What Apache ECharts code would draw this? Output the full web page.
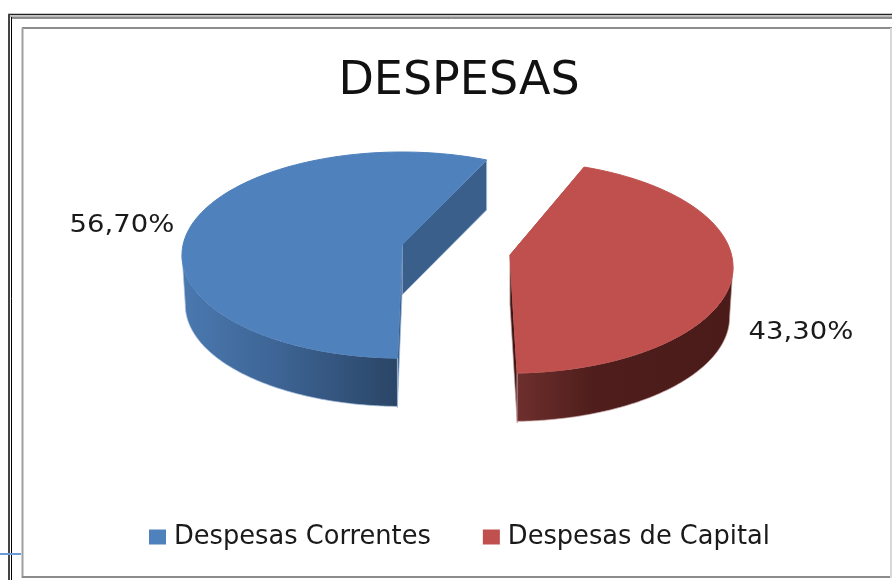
<!DOCTYPE html>
<html><head><meta charset="utf-8">
<style>html,body{margin:0;padding:0;background:#fff}#c{width:892px;height:580px}</style>
<script src="https://cdn.jsdelivr.net/npm/echarts@6/dist/echarts.min.js"></script>
</head><body><div id="c"></div>
<script>
const titleText = 'DESPESAS';
const categories = ['Despesas Correntes', 'Despesas de Capital'];
const values = [56.7, 43.3];
const valueLabels = ['56,70%', '43,30%'];

const FONT = '"DejaVu Sans", sans-serif';
const DEPTH = 50;
const PERSPECTIVE_SKEW = -3.7;
const looks = [
  {apex:[402,245], rx:220, ry:103, dy:10, start:25.5, dir:-1, top:'#4f81bd', cut:'#3a5f8b', fringe:'rgba(170,195,225,0.7)',
   wall:[{offset:0,color:'#4a79b0'},{offset:0.45,color:'#3d6494'},{offset:1,color:'#2a4566'}], label:[122,226]},
  {apex:[510,255], rx:223, ry:106, dy:12, start:22, dir:1, top:'#c0504d', cut:'#3e1614', fringe:'rgba(200,165,165,0.7)',
   wall:[{offset:0,color:'#6e2f2d'},{offset:0.35,color:'#4f1e1c'},{offset:1,color:'#4a1b19'}], label:[801,333]}
];

function ringPoint(k, deg, down, shrink) {
  const d2r = Math.PI / 180;
  const t = (deg + PERSPECTIVE_SKEW * Math.sin(2 * deg * d2r)) * d2r;
  return [k.apex[0] + k.rx * shrink * Math.sin(t),
          k.apex[1] + k.dy + down - k.ry * shrink * Math.cos(t)];
}
function arc(k, a, b, down, shrink) {
  const pts = [], n = 120;
  for (let i = 0; i <= n; i++) pts.push(ringPoint(k, a + (b - a) * i / n, down, shrink));
  return pts;
}
function renderSlice(index) {
  return function (params, api) {
    const k = looks[index];
    const sweep = api.value(0) / 100 * 360;
    const a = k.start, b = k.start + k.dir * sweep;
    const rim = arc(k, a, b, 0, 1);
    const children = [];
    const cut = (p) => [p[0], p[1] + DEPTH];
    const apexLow = cut(k.apex);
    [rim[0], rim[rim.length - 1]].forEach((corner) => {
      children.push({type:'polygon', shape:{points:[k.apex, corner, cut(corner), apexLow]},
        style:{fill:k.cut, stroke:k.fringe, lineWidth:1}});
    });
    // visible outer wall: the part of the rim that faces the viewer
    const lo = Math.max(Math.min(a, b), k.dir > 0 ? 90 : -270);
    const hi = Math.min(Math.max(a, b), k.dir > 0 ? 270 : -90);
    const up = arc(k, lo, hi, 0, 1);
    const low = arc(k, lo, hi, DEPTH, 0.985);
    children.push({type:'polygon', shape:{points:up.concat(low.reverse())},
      style:{fill:new echarts.graphic.LinearGradient(0,0,1,0,k.wall), stroke:k.fringe, lineWidth:1}});
    children.push({type:'polygon', shape:{points:[k.apex].concat(rim)},
      style:{fill:k.top, stroke:k.top, lineWidth:1}});
    children.push({type:'text', x:k.label[0], y:k.label[1], scaleX:1.145,
      style:{text:valueLabels[index], font:'24px ' + FONT, fill:'#1a1a1a', align:'center', verticalAlign:'middle'}});
    return {type:'group', children};
  };
}
function line(x1,y1,x2,y2,color,w){
  return {type:'line', silent:true, shape:{x1,y1,x2,y2}, style:{stroke:color, lineWidth:w}};
}
const chart = echarts.init(document.getElementById('c'), null, {renderer:'canvas'});
chart.setOption({
  animation:false,
  backgroundColor:'#fff',
  title:{text:titleText, left:454, top:54, textAlign:'center',
    textStyle:{fontFamily:FONT, fontSize:46, fontWeight:'normal', color:'#111'}},
  legend:{data:categories, left:144, top:519, icon:'rect', itemWidth:17, itemHeight:15, itemGap:52,
    textStyle:{fontFamily:FONT, fontSize:25.7, color:'#1a1a1a', padding:[0,0,0,3]}},
  graphic:[
    line(8,14.5,892,14.5,'#222',1.5), line(10,16.5,892,16.5,'#bbb',1.5), line(11,18,892,18,'#222',1),
    line(9,14,9,580,'#444',2), line(11.5,17,11.5,580,'#000',1),
    line(22,28,892,28,'#8c8c8c',2), line(22.5,28,22.5,578,'#a0a0a0',2),
    line(22,577,892,577,'#8c8c8c',2), line(891,28,891,578,'#d8d8d8',2),
    line(0,554,21,554,'#6a9ad8',2)
  ],
  series:categories.map((name,i)=>({
    type:'custom', name, coordinateSystem:'none', silent:true,
    itemStyle:{color:looks[i].top},
    data:[[values[i]]], renderItem:renderSlice(i)
  }))
});
</script></body></html>
